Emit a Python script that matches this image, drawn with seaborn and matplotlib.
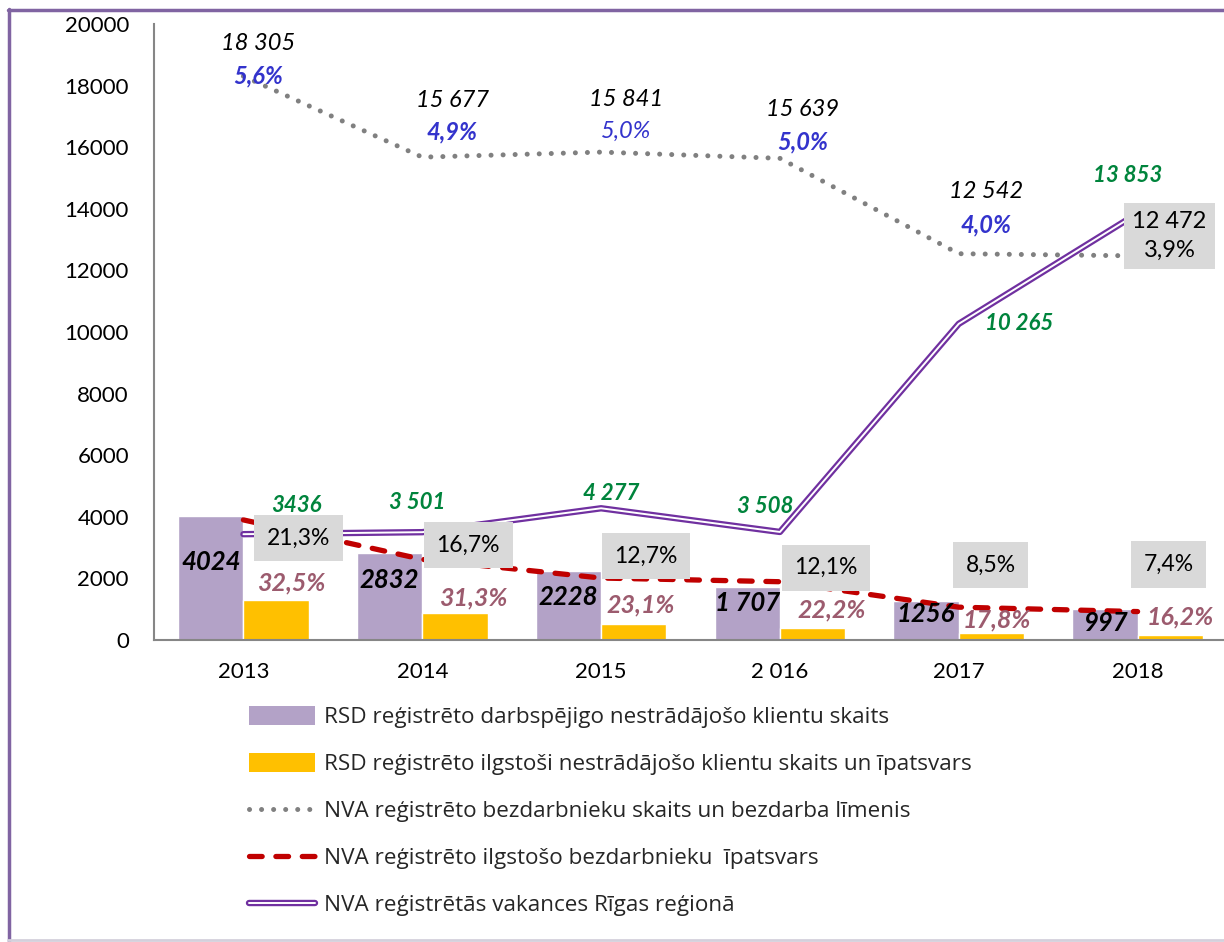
import numpy as np
import pandas as pd
import matplotlib
matplotlib.use("Agg")
import matplotlib.pyplot as plt
import matplotlib.patheffects as pe
from matplotlib.lines import Line2D
from matplotlib.patches import Patch
import seaborn as sns

# data
years = ["2013", "2014", "2015", "2 016", "2017", "2018"]
rsd_clients = [4024, 2832, 2228, 1707, 1256, 997]
rsd_longterm_share = [32.5, 31.3, 23.1, 22.2, 17.8, 16.2]
rsd_longterm = [1308, 886, 515, 379, 224, 162]
nva_unemployed = [18305, 15677, 15841, 15639, 12542, 12472]
nva_rate = [5.6, 4.9, 5.0, 5.0, 4.0, 3.9]
nva_longterm_share = [21.3, 16.7, 12.7, 12.1, 8.5, 7.4]
nva_longterm = [3899, 2618, 2012, 1892, 1066, 923]
vacancies = [3436, 3501, 4277, 3508, 10265, 13853]

series_names = [
    "RSD reģistrēto darbspējigo nestrādājošo klientu skaits",
    "RSD reģistrēto ilgstoši nestrādājošo klientu skaits un īpatsvars",
    "NVA reģistrēto bezdarbnieku skaits un bezdarba līmenis",
    "NVA reģistrēto ilgstošo bezdarbnieku  īpatsvars",
    "NVA reģistrētās vakances Rīgas reģionā",
]

def lv(n):
    # thousands separated with a space, like the source
    return f"{n:,}".replace(",", " ")

def pct(v):
    return f"{v:.1f}%".replace(".", ",")

C_BAR1 = "#B3A2C7"
C_BAR2 = "#FFC000"
C_GRAY = "#808080"
C_RED = "#C00000"
C_PURP = "#7030A0"
C_GREEN = "#00843C"
C_BLUE = "#3333CC"
C_ROSE = "#9C5B6E"
C_BOX = "#D9D9D9"

sns.set_theme(style="white")
plt.rcParams["font.family"] = ["Lato", "DejaVu Sans"]

fig = plt.figure(figsize=(12.24, 9.42), dpi=100)
ax = fig.add_axes([154 / 1224, 1 - 640 / 942, (1227 - 154) / 1224, 616 / 942])

pos = np.arange(len(years))
bars = pd.DataFrame({
    "pos": np.concatenate([pos, pos]),
    "value": rsd_clients + rsd_longterm,
    "series": [series_names[0]] * 6 + [series_names[1]] * 6,
})
sns.barplot(data=bars, x="pos", y="value", hue="series", order=list(pos),
            palette=[C_BAR1, C_BAR2], width=0.73, saturation=1,
            legend=False, ax=ax, zorder=2)
# soft shadow under the bars, like the office chart style
for p in ax.patches:
    p.set_path_effects([pe.SimplePatchShadow(offset=(0, -2.5), alpha=0.35,
                                             shadow_rgbFace="#404040"),
                        pe.Normal()])

lines = pd.DataFrame({"pos": pos, "unemp": nva_unemployed,
                      "longterm": nva_longterm, "vac": vacancies})

sns.lineplot(data=lines, x="pos", y="unemp", ax=ax, color=C_GRAY, lw=3.6,
             linestyle=(0, (0.01, 2.4)), dash_capstyle="round", zorder=3)
sns.lineplot(data=lines, x="pos", y="longterm", ax=ax, color=C_RED, lw=3.8,
             linestyle=(0, (2.4, 2.6)), dash_capstyle="round", zorder=4)
double = [pe.Stroke(linewidth=4.6, foreground=C_PURP), pe.Normal()]
sns.lineplot(data=lines, x="pos", y="vac", ax=ax, color="white", lw=1.4,
             path_effects=double, zorder=3)

ax.set_xlim(-0.5, 5.5)
ax.set_ylim(0, 20000)
ax.set_yticks(range(0, 20001, 2000))
ax.set_yticklabels([str(t) for t in range(0, 20001, 2000)])
ax.set_xticks(pos)
ax.set_xticklabels(years)
ax.set_xlabel("")
ax.set_ylabel("")
ax.tick_params(axis="y", length=0, pad=18, labelsize=16, labelcolor="black")
ax.tick_params(axis="x", length=0, pad=16, labelsize=16, labelcolor="black")
for s in ["top", "right"]:
    ax.spines[s].set_visible(False)
for s in ["left", "bottom"]:
    ax.spines[s].set_color("#868686")
    ax.spines[s].set_linewidth(1.5)
ax.patch.set_alpha(0)

# label offsets in points (layout only)
k = 0.72
gray_num_off = [(15, 33), (30, 57), (25, 53), (23, 49), (27, 62)]
gray_pct_off = [(15, 0), (30, 25), (25, 21), (23, 16), (27, 29)]
for i in range(5):
    ax.annotate(lv(nva_unemployed[i]), (pos[i], nva_unemployed[i]),
                xytext=(gray_num_off[i][0] * k, gray_num_off[i][1] * k),
                textcoords="offset points", ha="center", va="center",
                fontsize=17, style="italic", color="black", zorder=6)
    ax.annotate(pct(nva_rate[i]), (pos[i], nva_unemployed[i]),
                xytext=(gray_pct_off[i][0] * k, gray_pct_off[i][1] * k),
                textcoords="offset points", ha="center", va="center",
                fontsize=17, style="italic", color=C_BLUE,
                fontweight="normal" if i == 2 else "bold", zorder=6)
ax.annotate(lv(nva_unemployed[5]) + "\n" + pct(nva_rate[5]),
            (pos[5], nva_unemployed[5]), xytext=(32 * k, 20 * k),
            textcoords="offset points", ha="center", va="center",
            fontsize=17, color="black", linespacing=1.45, zorder=6,
            bbox=dict(boxstyle="square,pad=0.35", fc=C_BOX, ec="none"))

green_off = [(53, 29), (-5, 30), (10, 15), (-15, 25), (60, 0), (-10, 38)]
for i in range(6):
    ax.annotate(lv(vacancies[i]) if i else str(vacancies[i]),
                (pos[i], vacancies[i]),
                xytext=(green_off[i][0] * k, green_off[i][1] * k),
                textcoords="offset points", ha="center", va="center",
                fontsize=16, style="italic", fontweight="bold",
                color=C_GREEN, zorder=6)

red_off = [(55, -18), (46, 14), (45, 22), (46, 14), (32, 42), (31, 47)]
for i in range(6):
    ax.annotate(pct(nva_longterm_share[i]), (pos[i], nva_longterm[i]),
                xytext=(red_off[i][0] * k, red_off[i][1] * k),
                textcoords="offset points", ha="center", va="center",
                fontsize=16.5, color="black", zorder=6,
                bbox=dict(boxstyle="square,pad=0.55", fc=C_BOX, ec="none"))

bw = 0.73 / 2
bar1_dy = [-46, -27, -26, -16, -13, -14]
for i in range(6):
    txt = lv(rsd_clients[i]) if i == 3 else str(rsd_clients[i])
    ax.annotate(txt, (pos[i] - bw / 2, rsd_clients[i]),
                xytext=(0, bar1_dy[i] * k), textcoords="offset points",
                ha="center", va="center", fontsize=18.5, style="italic",
                fontweight="bold", color="black", zorder=6)

bar2_off = [(15, 17), (18, 15), (7, 19), (19, 18), (5, 13), (10, 18)]
for i in range(6):
    ax.annotate(pct(rsd_longterm_share[i]), (pos[i] + bw / 2, rsd_longterm[i]),
                xytext=(bar2_off[i][0] * k, bar2_off[i][1] * k),
                textcoords="offset points", ha="center", va="center",
                fontsize=18, style="italic", fontweight="bold",
                color=C_ROSE, zorder=6)

handles = [
    Patch(facecolor=C_BAR1, edgecolor="none"),
    Patch(facecolor=C_BAR2, edgecolor="none"),
    Line2D([], [], color=C_GRAY, lw=3.6, linestyle=(0, (0.01, 2.4)),
           dash_capstyle="round"),
    Line2D([], [], color=C_RED, lw=3.8, linestyle=(0, (2.4, 2.6)),
           dash_capstyle="round"),
    Line2D([], [], color="white", lw=1.4, path_effects=double),
]
fig.legend(handles, series_names, loc="upper left",
           bbox_to_anchor=(249 / 1224, 1 - 706 / 942), frameon=False,
           prop={"family": ["Open Sans", "DejaVu Sans"], "size": 16.2},
           handlelength=2.95, handleheight=0.95,
           handletextpad=0.38, labelspacing=1.09, borderpad=0,
           borderaxespad=0)

# outer chart border
fig.add_artist(Line2D([9 / 1224, 9 / 1224], [0, 1 - 9 / 942],
                      transform=fig.transFigure, color="#8064A2", lw=2.5))
fig.add_artist(Line2D([8 / 1224, 1], [1 - 10 / 942, 1 - 10 / 942],
                      transform=fig.transFigure, color="#8064A2", lw=2.5))
fig.add_artist(Line2D([8 / 1224, 1], [2 / 942, 2 / 942],
                      transform=fig.transFigure, color="#D4D0DC", lw=2))

fig.savefig("out.png", dpi=100)
